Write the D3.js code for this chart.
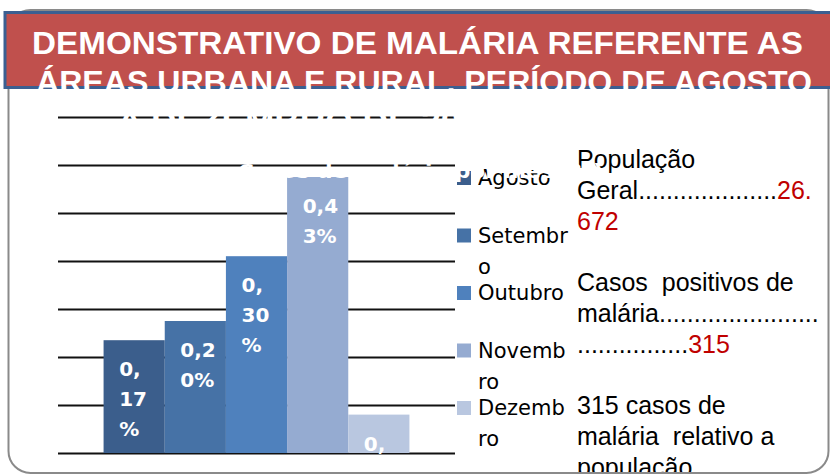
<!DOCTYPE html>
<html>
<head>
<meta charset="utf-8">
<script src="https://cdn.jsdelivr.net/npm/d3@7"></script>
<style>
  body { margin: 0; background: #fff; }
</style>
</head>
<body>
<div id="chart"></div>
<script>
// ---- data ----
const meses = ["Agosto", "Setembro", "Outubro", "Novembro", "Dezembro"];
const casos = [47, 55, 82, 115, 16];
const rotulos = [["0,", "17", "%"], ["0,2", "0%"], ["0,", "30", "%"], ["0,4", "3%"], ["0,", "06", "%"]];
const legendaLinhas = [["Agosto"], ["Setembr", "o"], ["Outubro"], ["Novemb", "ro"], ["Dezemb", "ro"]];
const cores = ["#3B5E8C", "#4672A6", "#4F81BD", "#95ABD1", "#B9C7E0"];
const yTicks = [0, 20, 40, 60, 80, 100, 120, 140];

const tituloLinhas = [
  "DEMONSTRATIVO DE MALÁRIA REFERENTE AS",
  "ÁREAS URBANA E RURAL, PERÍODO DE AGOSTO",
  "A DEZEMBRO DE 2008 - MUNICÍPIO"
];
const subtitulo = "Casos de malária por mês (%)";

// side note, each line = list of [text, red?]
const notaLinhas = [
  [["População", false]],
  [["Geral....................", false], ["26.", true]],
  [["672", true]],
  [],
  [["Casos  positivos de", false]],
  [["malária.......................", false]],
  [["................", false], ["315", true]],
  [],
  [["315 casos de", false]],
  [["malária  relativo a", false]],
  [["população", false]]
];

const W = 830, H = 476;
const margin = { top: 117, left: 58, right: 375, bottom: 23 };

const svg = d3.select("#chart").append("svg")
  .attr("width", W)
  .attr("height", H);

// frame clip
svg.append("clipPath").attr("id", "frame")
  .append("rect")
  .attr("x", 8.5).attr("y", 10)
  .attr("width", 820).attr("height", 463)
  .attr("rx", 22);

const content = svg.append("g").attr("clip-path", "url(#frame)");

// scales
const y = d3.scaleLinear().domain([0, 140]).range([H - margin.bottom, margin.top]);
const x = d3.scaleBand().domain(meses)
  .range([margin.left, W - margin.right])
  .paddingInner(0)
  .paddingOuter(0.745);

// gridlines via axis
const yAxis = d3.axisLeft(y)
  .tickValues(yTicks)
  .tickSize(-(W - margin.right - margin.left))
  .tickFormat("");

const grid = content.append("g")
  .attr("transform", `translate(${margin.left},0)`)
  .call(yAxis);
grid.select(".domain").remove();
grid.selectAll(".tick line")
  .attr("stroke", "#111")
  .attr("stroke-width", 2);

// bars
content.selectAll(".bar")
  .data(meses)
  .join("rect")
  .attr("class", "bar")
  .attr("x", d => x(d))
  .attr("y", (d, i) => y(casos[i]))
  .attr("width", x.bandwidth())
  .attr("height", (d, i) => y(0) - y(casos[i]))
  .attr("fill", (d, i) => cores[i]);

// bar labels (wrapped, inside end)
const labels = content.selectAll(".bar-label")
  .data(meses)
  .join("text")
  .attr("class", "bar-label")
  .attr("font-family", "DejaVu Sans")
  .attr("font-weight", "bold")
  .attr("font-size", 20)
  .attr("fill", "#fff");

labels.each(function(d, i) {
  const t = d3.select(this);
  rotulos[i].forEach((line, j) => {
    t.append("tspan")
      .attr("x", x(d) + x.bandwidth() / 2 - 15)
      .attr("y", y(casos[i]) + 36 + j * 30)
      .text(line);
  });
});

// legend
const legX = 457, legY0 = 185, legStep = 57.5;
const leg = content.selectAll(".legend")
  .data(meses)
  .join("g")
  .attr("class", "legend")
  .attr("transform", (d, i) => `translate(${legX},${legY0 + i * legStep})`);

leg.append("rect")
  .attr("x", 0).attr("y", -14)
  .attr("width", 14).attr("height", 14)
  .attr("fill", (d, i) => cores[i]);

leg.append("text")
  .attr("font-family", "DejaVu Sans")
  .attr("font-size", 21)
  .attr("fill", "#000")
  .each(function(d, i) {
    const t = d3.select(this);
    legendaLinhas[i].forEach((line, j) => {
      t.append("tspan").attr("x", 21).attr("y", j * 31).text(line);
    });
  });

// side note
const nota = content.append("text")
  .attr("font-family", "Liberation Sans, Arial, sans-serif")
  .attr("font-size", 25)
  .style("white-space", "pre")
  .attr("fill", "#000");

notaLinhas.forEach((linha, k) => {
  linha.forEach(([txt, red], j) => {
    const ts = nota.append("tspan").text(txt).attr("fill", red ? "#C00000" : "#000");
    if (j === 0) ts.attr("x", 577).attr("y", 168 + k * 30.8);
  });
});

// white chart title overlapping the plot (as in the original slide)
content.append("text")
  .attr("x", 238).attr("y", 178)
  .attr("font-family", "DejaVu Sans")
  .attr("font-weight", "bold")
  .attr("font-size", 20)
  .attr("textLength", 365)
  .attr("lengthAdjust", "spacingAndGlyphs")
  .attr("fill", "#fff")
  .text(subtitulo);

// frame border
svg.append("rect")
  .attr("x", 8.5).attr("y", 10)
  .attr("width", 820).attr("height", 463)
  .attr("rx", 22)
  .attr("fill", "none")
  .attr("stroke", "#8a8a8a")
  .attr("stroke-width", 2);

// title banner
svg.append("rect")
  .attr("x", 5).attr("y", 12.5)
  .attr("width", 830).attr("height", 75)
  .attr("fill", "#C0504D")
  .attr("stroke", "#3B5F91")
  .attr("stroke-width", 3);

const tituloPos = [
  { x: 32, y: 54, len: 771 },
  { x: 36, y: 93, len: 776 },
  { x: 117, y: 132, len: 600 }
];

svg.selectAll(".title-line")
  .data(tituloLinhas)
  .join("text")
  .attr("class", "title-line")
  .attr("x", (d, i) => tituloPos[i].x)
  .attr("y", (d, i) => tituloPos[i].y)
  .attr("textLength", (d, i) => tituloPos[i].len)
  .attr("lengthAdjust", "spacingAndGlyphs")
  .attr("font-family", "Liberation Sans, Arial, sans-serif")
  .attr("font-weight", "bold")
  .attr("font-size", 31)
  .attr("fill", "#fff")
  .text(d => d);
</script>
</body>
</html>
